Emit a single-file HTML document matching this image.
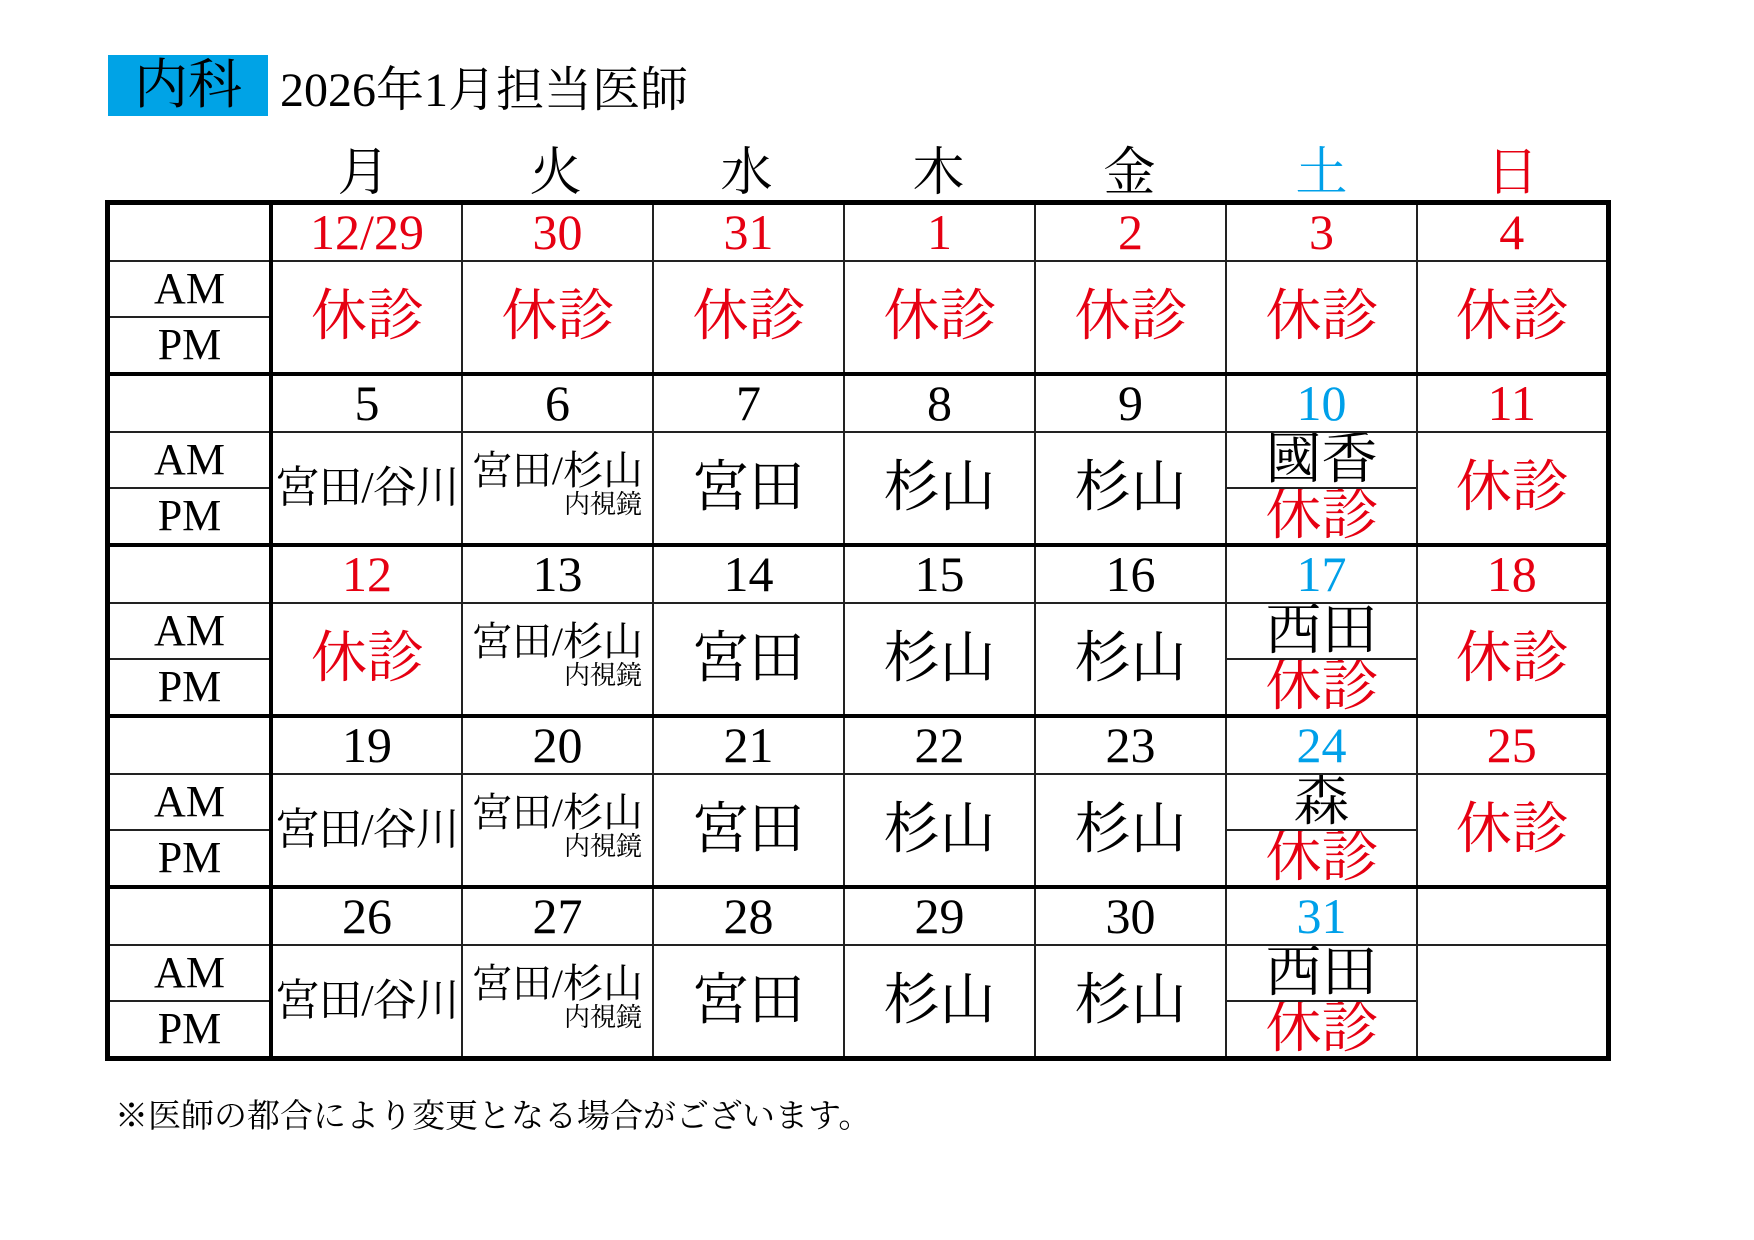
<!DOCTYPE html>
<html><head><meta charset="utf-8"><style>
body{margin:0;width:1754px;height:1240px;background:#fff;position:relative;overflow:hidden;font-family:"Liberation Serif","Noto Serif CJK JP",serif;}
.title{position:absolute;left:108px;top:55px;width:160px;height:61px;background:#00a3e6;font-size:54px;line-height:61px;text-align:center;}
.t2{position:absolute;left:280px;top:60px;font-size:48px;line-height:61px;}
.wk{position:absolute;top:144px;font-size:52px;width:191px;text-align:center;line-height:60px;}
table{position:absolute;left:105px;top:200px;border-collapse:collapse;table-layout:fixed;border:5px solid #000;}
td{border:2px solid #222;padding:0;text-align:center;overflow:hidden;white-space:nowrap;}
tr.d td{height:55px;font-size:50px;line-height:55px;}
tr.a td,tr.p td{height:54px;font-size:44px;line-height:54px;}
tr.p td, td[rowspan]{border-bottom:4px solid #000;}
td.lab{width:159px;border-right:4px solid #000;}
td.big{font-size:56px!important;line-height:100px!important;}
td.sat{font-size:56px!important;line-height:48px!important;}
.r{color:#e60012}.b{color:#00a0e9}
td.mid{font-size:44px!important;letter-spacing:-1px;}
td.sm{font-size:40px!important;line-height:40px!important;vertical-align:top;padding-top:18px;}
td.sm span{display:block;font-size:26px;line-height:28px;text-align:right;padding-right:10px;}
tr.d td.lab{border-bottom:2px solid #222}
.foot{position:absolute;left:115px;top:1090px;font-size:33px;font-family:"Noto Serif CJK JP",serif;}
</style></head><body>
<div class="title">内科</div>
<div class="t2">2026年1月担当医師</div>
<div class="wk" style="left:268px">月</div>
<div class="wk" style="left:460px">火</div>
<div class="wk" style="left:651px">水</div>
<div class="wk" style="left:843px">木</div>
<div class="wk" style="left:1034px">金</div>
<div class="wk b" style="left:1226px">土</div>
<div class="wk r" style="left:1417px">日</div>
<table>
<colgroup><col style="width:163px"><col style="width:191px"><col style="width:191px"><col style="width:191px"><col style="width:191px"><col style="width:191px"><col style="width:191px"><col style="width:191px"></colgroup>
<tr class="d"><td class="lab"></td><td class="r">12/29</td><td class="r">30</td><td class="r">31</td><td class="r">1</td><td class="r">2</td><td class="r">3</td><td class="r">4</td></tr>
<tr class="a"><td class="lab">AM</td><td rowspan="2" class="big r">休診</td><td rowspan="2" class="big r">休診</td><td rowspan="2" class="big r">休診</td><td rowspan="2" class="big r">休診</td><td rowspan="2" class="big r">休診</td><td rowspan="2" class="big r">休診</td><td rowspan="2" class="big r">休診</td></tr>
<tr class="p"><td class="lab">PM</td></tr>

<tr class="d"><td class="lab"></td><td>5</td><td>6</td><td>7</td><td>8</td><td>9</td><td class="b">10</td><td class="r">11</td></tr>
<tr class="a"><td class="lab">AM</td><td rowspan="2" class="mid">宮田/谷川</td><td rowspan="2" class="sm">宮田/杉山<span>内視鏡</span></td><td rowspan="2" class="big">宮田</td><td rowspan="2" class="big">杉山</td><td rowspan="2" class="big">杉山</td><td class="sat">國香</td><td rowspan="2" class="big r">休診</td></tr>
<tr class="p"><td class="lab">PM</td><td class="sat r">休診</td></tr>

<tr class="d"><td class="lab"></td><td class="r">12</td><td>13</td><td>14</td><td>15</td><td>16</td><td class="b">17</td><td class="r">18</td></tr>
<tr class="a"><td class="lab">AM</td><td rowspan="2" class="big r">休診</td><td rowspan="2" class="sm">宮田/杉山<span>内視鏡</span></td><td rowspan="2" class="big">宮田</td><td rowspan="2" class="big">杉山</td><td rowspan="2" class="big">杉山</td><td class="sat">西田</td><td rowspan="2" class="big r">休診</td></tr>
<tr class="p"><td class="lab">PM</td><td class="sat r">休診</td></tr>

<tr class="d"><td class="lab"></td><td>19</td><td>20</td><td>21</td><td>22</td><td>23</td><td class="b">24</td><td class="r">25</td></tr>
<tr class="a"><td class="lab">AM</td><td rowspan="2" class="mid">宮田/谷川</td><td rowspan="2" class="sm">宮田/杉山<span>内視鏡</span></td><td rowspan="2" class="big">宮田</td><td rowspan="2" class="big">杉山</td><td rowspan="2" class="big">杉山</td><td class="sat">森</td><td rowspan="2" class="big r">休診</td></tr>
<tr class="p"><td class="lab">PM</td><td class="sat r">休診</td></tr>

<tr class="d"><td class="lab"></td><td>26</td><td>27</td><td>28</td><td>29</td><td>30</td><td class="b">31</td><td></td></tr>
<tr class="a"><td class="lab">AM</td><td rowspan="2" class="mid">宮田/谷川</td><td rowspan="2" class="sm">宮田/杉山<span>内視鏡</span></td><td rowspan="2" class="big">宮田</td><td rowspan="2" class="big">杉山</td><td rowspan="2" class="big">杉山</td><td class="sat">西田</td><td rowspan="2"></td></tr>
<tr class="p"><td class="lab">PM</td><td class="sat r">休診</td></tr>
</table>
<div class="foot">※医師の都合により変更となる場合がございます。</div>
</body></html>
